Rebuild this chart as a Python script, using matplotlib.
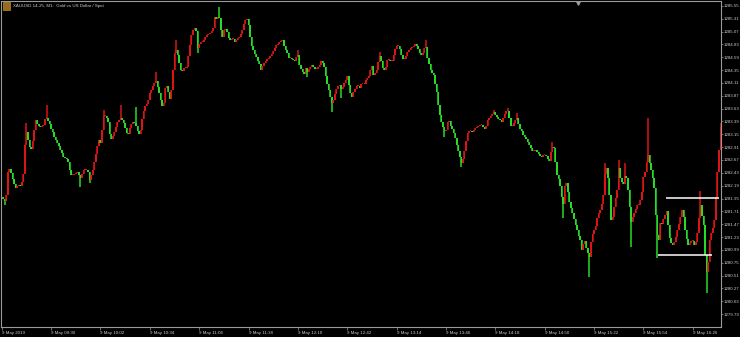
import matplotlib
matplotlib.use("Agg")
import matplotlib.pyplot as plt
from matplotlib.lines import Line2D
from matplotlib.patches import Rectangle
import numpy as np

# ---------------- data ----------------
title = "XAUUSD.14-25, M1:  Gold vs US Dollar / Spot"
first_open = 1281.95
closes = [
    1281.98, 1281.94, 1281.91, 1282.02, 1282.45, 1282.50, 1282.43, 1282.32, 1282.22, 1282.15,
    1282.19, 1282.20, 1282.19, 1282.26, 1282.41, 1282.95, 1283.19, 1283.05, 1282.91, 1282.88,
    1283.03, 1283.23, 1283.42, 1283.34, 1283.31, 1283.29, 1283.31, 1283.33, 1283.44, 1283.46,
    1283.40, 1283.34, 1283.25, 1283.19, 1283.10, 1283.05, 1282.99, 1282.93, 1282.86, 1282.80,
    1282.73, 1282.71, 1282.69, 1282.63, 1282.48, 1282.39, 1282.39, 1282.41, 1282.43, 1282.45,
    1282.39, 1282.34, 1282.41, 1282.48, 1282.48, 1282.48, 1282.45, 1282.30, 1282.39, 1282.48,
    1282.63, 1282.78, 1282.93, 1283.05, 1282.99, 1283.23, 1283.49, 1283.49, 1283.46, 1283.38,
    1283.16, 1283.06, 1283.12, 1283.19, 1283.29, 1283.38, 1283.42, 1283.46, 1283.42, 1283.36,
    1283.27, 1283.18, 1283.16, 1283.27, 1283.34, 1283.38, 1283.36, 1283.31, 1283.21, 1283.16,
    1283.23, 1283.44, 1283.59, 1283.68, 1283.72, 1283.79, 1283.92, 1283.98, 1284.05, 1284.11,
    1284.15, 1284.04, 1283.92, 1283.79, 1283.68, 1283.74, 1284.02, 1284.05, 1283.94, 1283.81,
    1283.98, 1284.35, 1284.67, 1284.73, 1284.63, 1284.48, 1284.35, 1284.33, 1284.39, 1284.39,
    1284.41, 1284.61, 1284.82, 1285.01, 1285.10, 1285.14, 1285.08, 1284.76, 1284.84, 1284.88,
    1284.88, 1284.91, 1284.97, 1285.01, 1285.03, 1285.04, 1285.08, 1285.14, 1285.34, 1285.30,
    1285.34, 1285.32, 1285.10, 1284.97, 1285.10, 1285.12, 1285.06, 1284.95, 1284.91, 1284.93,
    1284.93, 1284.88, 1284.91, 1284.95, 1284.97, 1285.03, 1285.10, 1285.21, 1285.29, 1285.30,
    1285.19, 1284.97, 1284.80, 1284.73, 1284.65, 1284.60, 1284.52, 1284.46, 1284.35, 1284.43,
    1284.48, 1284.52, 1284.56, 1284.58, 1284.61, 1284.65, 1284.71, 1284.76, 1284.82, 1284.84,
    1284.88, 1284.89, 1284.91, 1284.80, 1284.73, 1284.67, 1284.58, 1284.58, 1284.56, 1284.54,
    1284.52, 1284.60, 1284.63, 1284.45, 1284.37, 1284.31, 1284.28, 1284.39, 1284.31, 1284.37,
    1284.41, 1284.45, 1284.41, 1284.37, 1284.37, 1284.41, 1284.45, 1284.52, 1284.48, 1284.41,
    1284.24, 1284.09, 1283.98, 1283.85, 1283.74, 1283.79, 1283.90, 1284.00, 1284.05, 1284.07,
    1284.00, 1284.04, 1284.11, 1284.17, 1284.24, 1284.07, 1283.92, 1283.85, 1283.94, 1284.00,
    1284.05, 1284.05, 1284.02, 1284.09, 1284.09, 1284.09, 1284.17, 1284.20, 1284.24, 1284.35,
    1284.43, 1284.26, 1284.30, 1284.35, 1284.50, 1284.61, 1284.52, 1284.39, 1284.35, 1284.41,
    1284.54, 1284.54, 1284.52, 1284.52, 1284.63, 1284.74, 1284.80, 1284.80, 1284.74, 1284.63,
    1284.56, 1284.56, 1284.61, 1284.69, 1284.73, 1284.76, 1284.78, 1284.80, 1284.84, 1284.80,
    1284.74, 1284.67, 1284.63, 1284.67, 1284.76, 1284.78, 1284.58, 1284.46, 1284.35, 1284.30,
    1284.26, 1284.09, 1283.94, 1283.70, 1283.51, 1283.38, 1283.29, 1283.21, 1283.23, 1283.38,
    1283.40, 1283.31, 1283.25, 1283.18, 1283.08, 1282.95, 1282.84, 1282.73, 1282.62, 1282.69,
    1282.84, 1283.03, 1283.18, 1283.21, 1283.21, 1283.19, 1283.23, 1283.27, 1283.29, 1283.31,
    1283.33, 1283.33, 1283.29, 1283.25, 1283.31, 1283.42, 1283.46, 1283.49, 1283.53, 1283.57,
    1283.51, 1283.48, 1283.44, 1283.42, 1283.38, 1283.46, 1283.53, 1283.59, 1283.59, 1283.46,
    1283.31, 1283.31, 1283.36, 1283.42, 1283.46, 1283.34, 1283.25, 1283.21, 1283.14, 1283.10,
    1283.06, 1283.01, 1282.95, 1282.90, 1282.84, 1282.84, 1282.86, 1282.82, 1282.78, 1282.75,
    1282.73, 1282.76, 1282.76, 1282.75, 1282.69, 1282.65, 1282.82, 1282.91, 1282.90, 1282.63,
    1282.39, 1282.32, 1282.19, 1281.98, 1281.85, 1282.19, 1282.24, 1282.07, 1281.89, 1281.77,
    1281.68, 1281.57, 1281.46, 1281.36, 1281.25, 1281.18, 1280.99, 1281.10, 1281.16, 1281.03,
    1280.93, 1280.86, 1281.14, 1281.29, 1281.36, 1281.44, 1281.59, 1281.68, 1281.74, 1281.85,
    1282.02, 1282.41, 1282.52, 1282.34, 1282.02, 1281.55, 1281.61, 1281.79, 1281.96, 1282.11,
    1282.52, 1282.34, 1282.26, 1282.22, 1282.37, 1282.34, 1282.11, 1281.79, 1281.51, 1281.61,
    1281.68, 1281.76, 1281.83, 1281.83, 1281.92, 1282.07, 1282.35, 1282.45, 1282.63, 1282.76,
    1282.62, 1282.48, 1282.34, 1282.15, 1281.64, 1281.27, 1281.18, 1281.49, 1281.47, 1281.57,
    1281.64, 1281.72, 1281.46, 1281.21, 1281.12, 1281.08, 1281.14, 1281.23, 1281.36, 1281.47,
    1281.61, 1281.74, 1281.61, 1281.36, 1281.20, 1281.08, 1281.12, 1281.16, 1281.16, 1281.08,
    1281.14, 1281.31, 1281.59, 1281.83, 1281.62, 1281.46, 1280.90, 1280.58, 1280.77, 1281.18,
    1281.31, 1281.40, 1281.55, 1281.98, 1282.45, 1282.86, 1283.29,
]
wick_high_bars = [16, 29, 66, 77, 87, 100, 113, 141, 192, 245, 275, 319, 328, 334, 357,
                  391, 400, 404, 419, 453, 466]
wick_high_vals = [1283.36, 1283.70, 1283.61, 1283.70, 1283.66, 1284.31, 1284.91, 1285.53,
                  1284.73, 1284.69, 1284.91, 1283.61, 1283.64, 1283.55, 1283.00,
                  1282.62, 1282.67, 1282.62, 1283.45, 1282.09, 1283.36]
wick_low_bars = [2, 51, 57, 127, 198, 214, 220, 287, 298, 364, 381, 408, 425, 457]
wick_low_vals = [1281.83, 1282.16, 1282.24, 1284.67, 1284.22, 1283.57, 1283.83, 1283.10,
                 1282.54, 1281.59, 1280.49, 1281.05, 1280.84, 1280.19]

price_ticks = [1285.55, 1285.31, 1285.07, 1284.83, 1284.59, 1284.35, 1284.11, 1283.87,
               1283.63, 1283.39, 1283.15, 1282.91, 1282.67, 1282.43, 1282.19, 1281.95,
               1281.71, 1281.47, 1281.23, 1280.99, 1280.75, 1280.51, 1280.27, 1280.03,
               1279.79]
time_tick_bars = [0, 32, 64, 96, 128, 160, 192, 224, 256, 288, 320, 352, 384, 416, 448]
time_labels = ["9 May 2019", "9 May 09:30", "9 May 10:02", "9 May 10:34", "9 May 11:06",
               "9 May 11:38", "9 May 12:10", "9 May 12:42", "9 May 13:14", "9 May 13:46",
               "9 May 14:18", "9 May 14:50", "9 May 15:22", "9 May 15:54", "9 May 16:26"]

# horizontal lines drawn on the chart (price, start bar, end bar)
hline_prices = [1281.96, 1280.89]
hline_start = [430.7, 425.5]
hline_end = [465.0, 460.5]

# ---------------- derived ----------------
c = np.array(closes)
o = np.concatenate([[first_open], c[:-1]])
hi = np.maximum(o, c)
lo = np.minimum(o, c)
for b, v in zip(wick_high_bars, wick_high_vals):
    hi[b] = max(hi[b], v)
for b, v in zip(wick_low_bars, wick_low_vals):
    lo[b] = min(lo[b], v)
x = np.arange(len(c))
up = c >= o

RED = "#dc1414"
GREEN = "#26dc26"
FG = "#cccccc"
GRID = "#9a9a9a"
FONT = "Liberation Sans"
FS = 3.2

W, H = 740, 337
fig = plt.figure(figsize=(W / 100, H / 100), dpi=100, facecolor="black")
ax = fig.add_axes([1 / W, 10 / H, 720 / W, 326 / H])
ax.set_facecolor("black")

cols = np.where(up, RED, GREEN)
ax.vlines(x, lo, hi, colors=cols, linewidth=1.1)
body = np.maximum(np.abs(c - o), 0.02)
ax.bar(x, body, bottom=np.minimum(o, c), width=0.95, color=cols, linewidth=0)

ax.hlines(hline_prices, hline_start, hline_end, colors="white", linewidth=1.1)

ax.set_xlim(-0.5, 466.3)
ax.set_ylim(1279.55, 1285.64)

for s in ax.spines.values():
    s.set_color(GRID)
    s.set_linewidth(0.8)

ax.yaxis.tick_right()
ax.set_yticks(price_ticks)
ax.set_yticklabels([f"{p:.2f}" for p in price_ticks], fontsize=FS, color=FG, family=FONT)
ax.set_xticks(time_tick_bars)
ax.set_xticklabels(time_labels, fontsize=FS, color=FG, family=FONT, ha="left")
ax.tick_params(axis="y", length=1.4, width=0.5, color=GRID, pad=0.3)
ax.tick_params(axis="x", length=2, width=0.5, color=GRID, pad=0.6)

fig.text(13 / W, 1 - 6 / H, title, fontsize=FS, color=FG, family=FONT, va="center", ha="left")
fig.add_artist(Rectangle((3 / W, 1 - 10 / H), 7 / W, 8 / H, transform=fig.transFigure,
                         facecolor="#9a6a1a", edgecolor="#d0a040", linewidth=0.4))
fig.add_artist(Line2D([578 / W], [1 - 2.5 / H], marker="v", markersize=2.5, color=GRID,
                      linestyle="none", transform=fig.transFigure))

fig.savefig("out.png", dpi=100, facecolor="black")
